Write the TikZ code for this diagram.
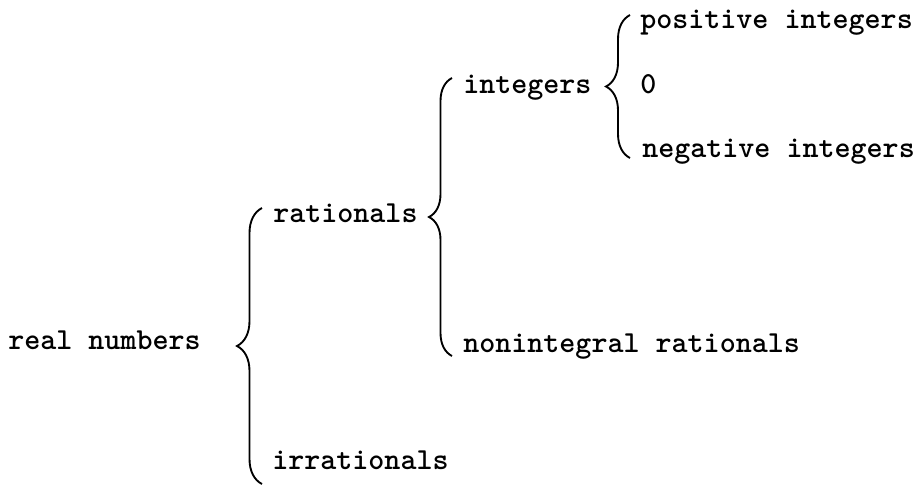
\documentclass[tikz,border=0pt]{standalone}
\usetikzlibrary{calc,decorations.pathreplacing}

\begin{document}
\begin{tikzpicture}[
  x=0.75pt,y=-0.75pt,
  term/.style={anchor=base west, inner sep=0pt, font=\ttfamily\bfseries\fontsize{22.9}{28}\selectfont, text=black},
  curly/.style={draw=black, line width=1.4pt, decorate, decoration={brace, amplitude=#1}}
]
\useasboundingbox (0,0) rectangle (919,487);

% Terms of the classification
\node[term] (real)   at (8,349)   {real numbers};
\node[term] (rat)    at (273,222) {rationals};
\node[term] (irr)    at (272,469) {irrationals};
\node[term] (int)    at (463,93)  {integers};
\node[term] (nonint) at (463,352) {nonintegral rationals};
\node[term] (pos)    at (640,28)  {positive integers};
\node[term] (zero)   at (640,93)  {0};
\node[term] (neg)    at (642,157) {negative integers};

% Braces, drawn upwards so that the tip points left
\draw[curly=18.75pt] ($(irr.base west)+(-10,15)$) -- ($(rat.base west)+(-11,-14)$);
\draw[curly=17.25pt] ($(nonint.base west)+(-11,4)$) -- ($(int.base west)+(-11,-15)$);
\draw[curly=18pt] ($(neg.base west)+(-12,1)$) -- ($(pos.base west)+(-10,-13)$);

\end{tikzpicture}
\end{document}
